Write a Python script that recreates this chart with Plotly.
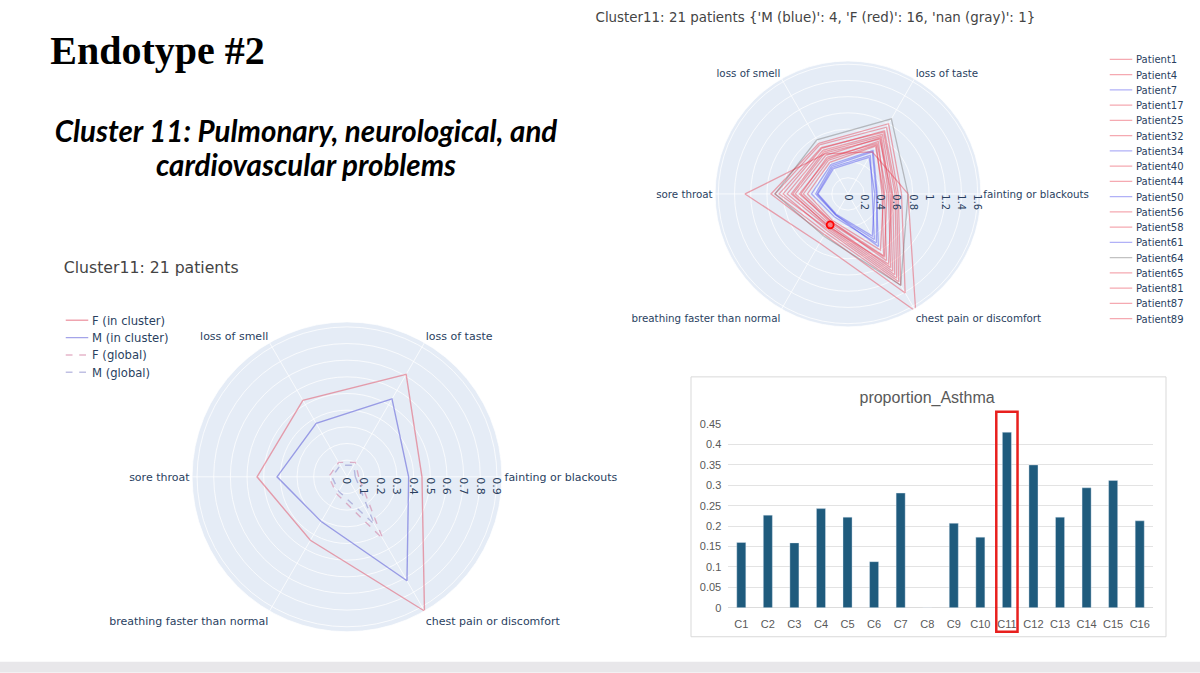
import plotly.graph_objects as go

# ---------------- data ----------------
symptoms = ["fainting or blackouts", "loss of taste", "loss of smell",
            "sore throat", "breathing faster than normal", "chest pain or discomfort"]

patients = ["Patient1", "Patient4", "Patient7", "Patient17", "Patient25", "Patient32",
            "Patient34", "Patient40", "Patient44", "Patient50", "Patient56", "Patient58",
            "Patient61", "Patient64", "Patient65", "Patient81", "Patient87", "Patient89"]
patient_sex = ["F", "F", "M", "F", "F", "F", "M", "F", "F", "M", "F", "F",
               "M", "nan", "F", "F", "F", "F"]
patient_values = [
    [0.55, 0.85, 0.62, 0.75, 0.48, 1.15],
    [0.50, 0.80, 0.55, 0.65, 0.44, 1.05],
    [0.35, 0.60, 0.40, 0.40, 0.30, 0.75],
    [0.60, 0.90, 0.65, 0.80, 0.52, 1.25],
    [0.45, 0.75, 0.50, 0.60, 0.40, 0.95],
    [0.62, 0.95, 0.70, 0.90, 0.55, 1.30],
    [0.30, 0.55, 0.38, 0.38, 0.30, 0.65],
    [0.48, 0.72, 0.52, 0.58, 0.42, 0.90],
    [0.66, 1.00, 0.72, 0.95, 0.58, 1.41],
    [0.33, 0.52, 0.36, 0.37, 0.29, 0.60],
    [0.52, 0.82, 0.60, 0.70, 0.46, 1.10],
    [0.42, 0.70, 0.48, 0.55, 0.40, 0.88],
    [0.36, 0.62, 0.42, 0.45, 0.33, 0.70],
    [0.74, 1.07, 0.77, 0.90, 0.60, 1.30],
    [0.58, 0.88, 0.66, 0.85, 0.50, 1.20],
    [0.44, 0.68, 0.45, 0.50, 0.38, 0.80],
    [0.74, 0.60, 0.57, 1.27, 0.70, 1.67],
    [0.54, 0.78, 0.58, 0.68, 0.47, 1.00],
]
highlight_symptom = "breathing faster than normal"
highlight_value = 0.44

summary_names = ["F (in cluster)", "M (in cluster)", "F (global)", "M (global)"]
summary_values = [
    [0.45, 0.71, 0.53, 0.54, 0.44, 0.93],
    [0.37, 0.54, 0.37, 0.42, 0.31, 0.72],
    [0.07, 0.10, 0.10, 0.11, 0.12, 0.43],
    [0.05, 0.08, 0.08, 0.09, 0.10, 0.33],
]

clusters = ["C1", "C2", "C3", "C4", "C5", "C6", "C7", "C8", "C9", "C10",
            "C11", "C12", "C13", "C14", "C15", "C16"]
asthma = [0.160, 0.227, 0.159, 0.243, 0.222, 0.113, 0.281, 0.0, 0.207, 0.173,
          0.430, 0.350, 0.222, 0.294, 0.312, 0.213]

# ---------------- geometry / styles ----------------
# The figure is laid out at 4/3 size and displayed scaled to 1200x673
W, H = 1200, 673          # displayed (reference) pixels
S = 4 / 3                 # design scale
def px_x(v): return v / W
def px_y(v): return 1 - v / H
def fs(v): return v * S   # size in displayed px -> design px

sex_color = {"F": "rgba(230,50,70,0.42)", "M": "rgba(70,70,235,0.42)",
             "nan": "rgba(120,120,120,0.45)"}
summary_style = [
    dict(color="rgba(225,90,110,0.55)", dash="solid"),
    dict(color="rgba(90,90,215,0.55)", dash="solid"),
    dict(color="rgba(205,110,150,0.50)", dash="dash"),
    dict(color="rgba(130,130,200,0.50)", dash="dash"),
]

fig = go.Figure()
theta_closed = symptoms + [symptoms[0]]

for name, sex, vals in zip(patients, patient_sex, patient_values):
    fig.add_trace(go.Scatterpolar(
        r=vals + [vals[0]], theta=theta_closed, mode="lines", name=name,
        line=dict(color=sex_color[sex], width=fs(1.3)),
        subplot="polar", legend="legend"))

fig.add_trace(go.Scatterpolar(
    r=[highlight_value], theta=[highlight_symptom], mode="markers", showlegend=False,
    marker=dict(size=fs(7), color="rgba(255,90,90,0.6)", line=dict(color="red", width=fs(1.8))),
    subplot="polar"))

for name, vals, st in zip(summary_names, summary_values, summary_style):
    fig.add_trace(go.Scatterpolar(
        r=vals + [vals[0]], theta=theta_closed, mode="lines", name=name,
        line=dict(color=st["color"], dash=st["dash"], width=fs(1.4)),
        subplot="polar2", legend="legend2"))

fig.add_trace(go.Bar(x=clusters, y=asthma, marker_color="#1f5b7d", showlegend=False,
                     xaxis="x", yaxis="y"))

fig.update_layout(
    width=round(W * S), height=round(H * S),
    margin=dict(l=0, r=0, t=0, b=0, autoexpand=False),
    paper_bgcolor="white", plot_bgcolor="white",
    font=dict(family="DejaVu Sans", color="#2a3f5f"),
    polar=dict(
        domain=dict(x=[px_x(715), px_x(981)], y=[px_y(327), px_y(61)]),
        bgcolor="#E5ECF6",
        radialaxis=dict(range=[0, 1.64], dtick=0.2, angle=0, tickangle=90,
                        tickfont=dict(size=fs(10)), gridcolor="white", gridwidth=fs(1),
                        showline=False, ticks=""),
        angularaxis=dict(tickfont=dict(size=fs(10.3)), gridcolor="white", gridwidth=fs(1),
                         linecolor="white", direction="counterclockwise", rotation=0, ticks=""),
    ),
    polar2=dict(
        domain=dict(x=[px_x(192), px_x(502)], y=[px_y(632), px_y(322)]),
        bgcolor="#E5ECF6",
        radialaxis=dict(range=[0, 0.93], dtick=0.1, angle=0, tickangle=90,
                        tickfont=dict(size=fs(11)), gridcolor="white", gridwidth=fs(1),
                        showline=False, ticks=""),
        angularaxis=dict(tickfont=dict(size=fs(11)), gridcolor="white", gridwidth=fs(1),
                         linecolor="white", direction="counterclockwise", rotation=0, ticks=""),
    ),
    xaxis=dict(domain=[px_x(728), px_x(1153)], showgrid=False, showline=False,
               tickfont=dict(family="Liberation Sans", size=fs(11), color="#595959"),
               ticks="", ticklabelstandoff=round(fs(8)), fixedrange=True),
    yaxis=dict(domain=[px_y(608), px_y(424.3)], range=[0, 0.45], dtick=0.05,
               gridcolor="#d9d9d9", gridwidth=fs(1), zeroline=True, zerolinecolor="#d0d0d0",
               zerolinewidth=fs(1), showline=False, ticks="", ticklabelstandoff=round(fs(6)),
               tickfont=dict(family="Liberation Sans", size=fs(11), color="#595959")),
    bargap=0.66,
    legend=dict(x=px_x(1106), y=px_y(48), xanchor="left", yanchor="top",
                font=dict(size=fs(10), color="#2a3f5f"), bgcolor="rgba(0,0,0,0)",
                tracegroupgap=0),
    legend2=dict(x=px_x(62), y=px_y(308), xanchor="left", yanchor="top",
                 font=dict(size=fs(11.6), color="#2a3f5f"), bgcolor="rgba(0,0,0,0)"),
)

shapes = [
    dict(type="rect", xref="paper", yref="paper", x0=0, x1=1, y0=0, y1=px_y(662),
         fillcolor="#e8e7ea", line=dict(width=0), layer="below"),
    dict(type="rect", xref="paper", yref="paper", x0=px_x(691), x1=px_x(1166),
         y0=px_y(637), y1=px_y(377), line=dict(color="#d9d9d9", width=fs(1)),
         fillcolor="rgba(0,0,0,0)"),
    dict(type="rect", xref="x", yref="paper", x0=9.6, x1=10.4,
         y0=px_y(632), y1=px_y(412), line=dict(color="#e8201e", width=fs(2.5)),
         fillcolor="rgba(0,0,0,0)"),
]
fig.update_layout(shapes=shapes)

annotations = [
    dict(text="<b>Endotype #2</b>", x=px_x(49), y=px_y(50), xanchor="left", yanchor="middle",
         font=dict(family="Liberation Serif", size=fs(40), color="black")),
    dict(text="<b><i>Cluster 11: Pulmonary, neurological, and</i></b>", x=px_x(306), y=px_y(130),
         xanchor="center", yanchor="middle", font=dict(family="Lato", size=fs(29.5), color="black")),
    dict(text="<b><i>cardiovascular problems</i></b>", x=px_x(306), y=px_y(165),
         xanchor="center", yanchor="middle", font=dict(family="Lato", size=fs(29.5), color="black")),
    dict(text="Cluster11: 21 patients {'M (blue)': 4, 'F (red)': 16, 'nan (gray)': 1}",
         x=px_x(594), y=px_y(17), xanchor="left", yanchor="middle",
         font=dict(size=fs(13.4), color="#444")),
    dict(text="Cluster11: 21 patients", x=px_x(62), y=px_y(268), xanchor="left",
         yanchor="middle", font=dict(size=fs(15.7), color="#444")),
    dict(text="proportion_Asthma", x=px_x(927), y=px_y(398), xanchor="center",
         yanchor="middle", font=dict(family="Liberation Sans", size=fs(16), color="#595959")),
]
for a in annotations:
    a.update(xref="paper", yref="paper", showarrow=False)
fig.update_layout(annotations=annotations)

post = """
document.documentElement.style.margin = '0';
document.documentElement.style.overflow = 'hidden';
document.body.style.margin = '0';
document.body.style.overflow = 'hidden';
var gd = document.getElementById('{plot_id}');
gd.style.transformOrigin = '0 0';
gd.style.transform = 'scale(0.75)';
"""
fig.write_html("out.html", post_script=post, config={"displayModeBar": False})
